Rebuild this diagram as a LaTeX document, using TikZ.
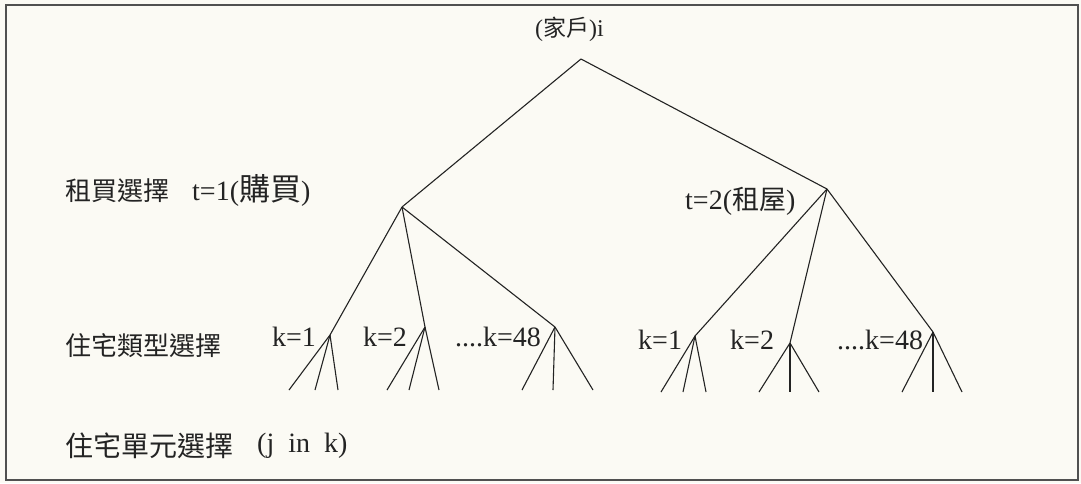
\documentclass[tikz,border=0pt]{standalone}
\usepackage{fontspec}
\setmainfont{Liberation Serif}
\newfontfamily\cjk{Noto Sans CJK TC}
\definecolor{paper}{RGB}{251,250,244}
\definecolor{ink}{RGB}{35,35,35}
\definecolor{framec}{RGB}{80,80,80}
\begin{document}
\begin{tikzpicture}[x=1pt,y=-1pt,
  branch/.style={draw=ink,line width=1.1pt},
  lbl/.style={anchor=west,inner sep=0pt,text=ink,font=\fontsize{28}{30}\selectfont},
  zh/.style={anchor=west,inner sep=0pt,text=ink,font=\fontsize{26}{28}\selectfont\cjk}]
\fill[paper] (0,0) rectangle (1081,483);
\useasboundingbox (0,0) rectangle (1081,483);
\draw[framec,line width=2pt] (5.5,5) rectangle (1077.5,480);

% tree points
\coordinate (root) at (581,59);
\coordinate (t1) at (402,207);
\coordinate (t2) at (827,189);
\coordinate (a1) at (330,335);
\coordinate (a2) at (425,327);
\coordinate (a3) at (555,327);
\coordinate (b1) at (695,336);
\coordinate (b2) at (790,343);
\coordinate (b3) at (933,332);
\foreach \n/\x in {a1l/289,a1m/315,a1r/338,a2l/387,a2m/409,a2r/439,a3l/522,a3m/553,a3r/593}
  \coordinate (\n) at (\x,390);
\foreach \n/\x in {b1l/661,b1m/683,b1r/706,b2l/759,b2m/790,b2r/819,b3l/902,b3m/933,b3r/962}
  \coordinate (\n) at (\x,392);

% branches
\draw[branch] (root) -- (t1);
\draw[branch] (root) -- (t2);
\foreach \c in {a1,a2,a3} \draw[branch] (t1) -- (\c);
\foreach \c in {b1,b2,b3} \draw[branch] (t2) -- (\c);
\foreach \p in {a1,a2,a3,b1,b2,b3}
  \foreach \s in {l,m,r} \draw[branch] (\p) -- (\p\s);

% labels
\node[lbl,font=\fontsize{24}{26}\selectfont] (rootlbl) at (535,29) {({\cjk\fontsize{23}{26}\selectfont 家戶})i};
\node[zh] (lev1) at (65,191) {租買選擇};
\node[lbl] (t1lbl) at (192,190) {t=1({\cjk\fontsize{31}{32}\selectfont 購買})};
\node[lbl,font=\fontsize{28}{30}\selectfont] (t2lbl) at (685,201) {t=2({\cjk\fontsize{27}{28}\selectfont 租屋})};
\node[zh] (lev2) at (65,346) {住宅類型選擇};
\node[lbl] (a1lbl) at (272,337) {k=1};
\node[lbl] (a2lbl) at (363,337) {k=2};
\node[lbl] (a3lbl) at (455,337) {....k=48};
\node[lbl] (b1lbl) at (638,340) {k=1};
\node[lbl] (b2lbl) at (730,340) {k=2};
\node[lbl] (b3lbl) at (837,340) {....k=48};
\node[zh,font=\fontsize{28}{30}\selectfont\cjk] (lev3) at (65,446) {住宅單元選擇};
\node[lbl] (jlbl) at (257,446) {(j\ \ in\ \ k)};
\end{tikzpicture}
\end{document}
